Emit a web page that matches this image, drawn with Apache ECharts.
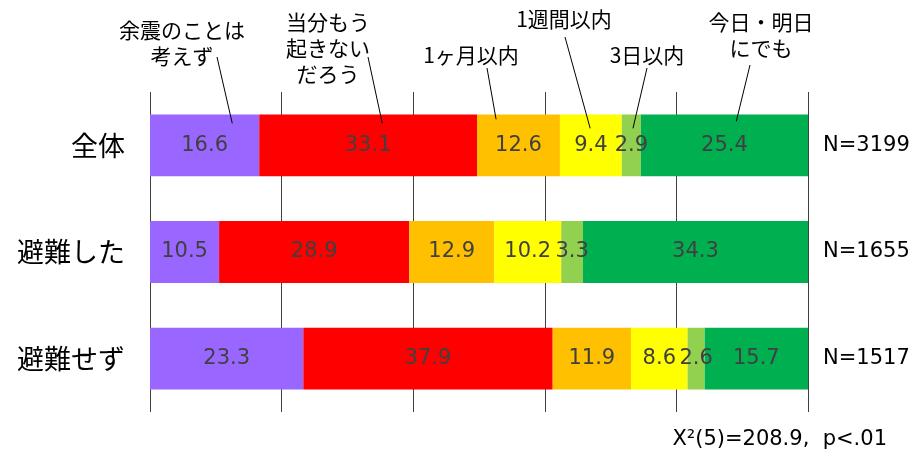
<!DOCTYPE html>
<html>
<head>
<meta charset="utf-8">
<script src="https://cdn.jsdelivr.net/npm/echarts@6/dist/echarts.min.js"></script>
<style>
  html, body { margin: 0; padding: 0; background: #fff; }
  #chart { width: 917px; height: 459px; }
</style>
</head>
<body>
<div id="chart"></div>
<script>
// データ
const categories = ['全体', '避難した', '避難せず'];
const nLabels = ['N=3199', 'N=1655', 'N=1517'];
const seriesNames = ['余震のことは\n考えず', '当分もう\n起きない\nだろう', '1ヶ月以内', '1週間以内', '3日以内', '今日・明日\nにでも'];
const yoshinNashi = [16.6, 10.5, 23.3];
const okinai = [33.1, 28.9, 37.9];
const ikkagetsu = [12.6, 12.9, 11.9];
const isshukan = [9.4, 10.2, 8.6];
const mikka = [2.9, 3.3, 2.6];
const kyouAsu = [25.4, 34.3, 15.7];
const seriesValues = [yoshinNashi, okinai, ikkagetsu, isshukan, mikka, kyouAsu];
const colors = ['#9966FF', '#FF0000', '#FFC000', '#FFFF00', '#92D050', '#00B050'];

const numFont = 'DejaVu Sans, Noto Sans CJK JP, sans-serif';
const jpFont = 'Noto Sans CJK JP, DejaVu Sans, sans-serif';

const chart = echarts.init(document.getElementById('chart'));
chart.setOption({
  animation: false,
  grid: { left: 150, right: 109, top: 92, bottom: 47 },
  xAxis: {
    type: 'value',
    min: 0,
    max: 100,
    interval: 20,
    axisLabel: { show: false },
    axisLine: { show: false },
    axisTick: { show: false },
    splitLine: { lineStyle: { color: '#404040', width: 1 } }
  },
  yAxis: [{
    type: 'category',
    data: categories,
    inverse: true,
    axisLine: { show: false },
    axisTick: { show: false },
    axisLabel: { fontSize: 27, color: '#000', fontFamily: jpFont, margin: 25 }
  }, {
    type: 'category',
    data: nLabels,
    inverse: true,
    position: 'right',
    axisLine: { show: false },
    axisTick: { show: false },
    axisLabel: { fontSize: 21, color: '#000', fontFamily: numFont, margin: 15 }
  }],
  series: seriesValues.map((vals, i) => ({
    name: seriesNames[i],
    type: 'bar',
    stack: 'total',
    barWidth: '58%',
    yAxisIndex: 0,
    itemStyle: { color: colors[i] },
    label: {
      show: true,
      position: 'inside',
      color: '#404040',
      fontSize: 21,
      fontFamily: numFont,
      formatter: (p) => p.value.toFixed(1)
    },
    data: vals
  }))
});

// 吹き出しラベル（テキスト位置・線の始点・線の終点）
const callouts = [
  { x: 182, y: 17, sx: 217, sy: 57, ex: 12.5, ey: -22 },
  { x: 328, y: 9, sx: 368, sy: 57, ex: 35.3, ey: -22 },
  { x: 471, y: 42, sx: 487, sy: 68, ex: 52.6, ey: -26 },
  { x: 564, y: 6, sx: 565, sy: 37, ex: 66.9, ey: -17 },
  { x: 647, y: 42, sx: 647, sy: 68, ex: 73.4, ey: -17 },
  { x: 761, y: 9, sx: 750, sy: 65, ex: 89.1, ey: -24 }
];
const rowCenter = chart.convertToPixel({ yAxisIndex: 0 }, 0);
const graphics = [];
callouts.forEach((c, i) => {
  graphics.push({
    type: 'text',
    x: c.x,
    y: c.y,
    style: {
      text: seriesNames[i],
      fontSize: 21,
      lineHeight: 26,
      fontFamily: jpFont,
      fill: '#000',
      align: 'center',
      verticalAlign: 'top'
    }
  });
  graphics.push({
    type: 'line',
    shape: {
      x1: c.sx, y1: c.sy,
      x2: chart.convertToPixel({ xAxisIndex: 0 }, c.ex),
      y2: rowCenter + c.ey
    },
    style: { stroke: '#000', lineWidth: 1 },
    z: 10
  });
});
graphics.push({
  type: 'text',
  x: 887,
  y: 440,
  style: {
    text: 'X²(5)=208.9,  p<.01',
    fontSize: 21,
    fontFamily: numFont,
    fill: '#000',
    align: 'right',
    verticalAlign: 'middle'
  }
});
chart.setOption({ graphic: graphics });
</script>
</body>
</html>
